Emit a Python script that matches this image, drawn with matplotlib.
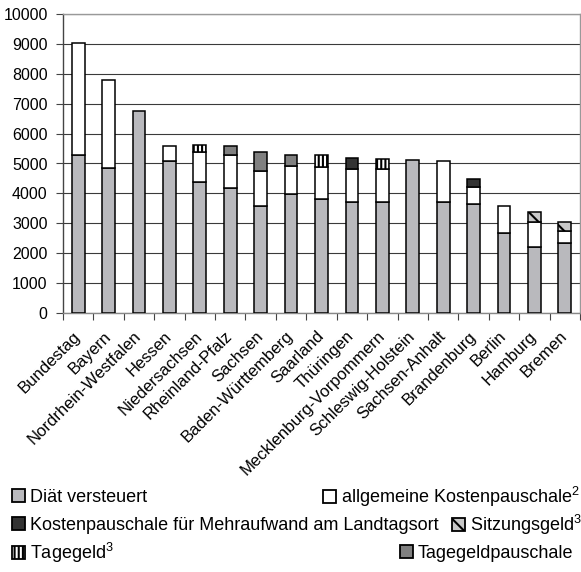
import matplotlib
matplotlib.use("Agg")
import matplotlib.pyplot as plt
import matplotlib.transforms as mtransforms
import numpy as np
from matplotlib.patches import Patch

plt.rcParams['font.family'] = ['Liberation Sans', 'DejaVu Sans']
plt.rcParams['mathtext.fontset'] = 'custom'
plt.rcParams['mathtext.rm'] = 'Liberation Sans'
plt.rcParams['mathtext.it'] = 'Liberation Sans'
plt.rcParams['hatch.linewidth'] = 1.5

# === DATA ===
states = ["Bundestag", "Bayern", "Nordrhein-Westfalen", "Hessen", "Niedersachsen",
          "Rheinland-Pfalz", "Sachsen", "Baden-Württemberg", "Saarland", "Thüringen",
          "Mecklenburg-Vorpommern", "Schleswig-Holstein", "Sachsen-Anhalt",
          "Brandenburg", "Berlin", "Hamburg", "Bremen"]
diaet = [5300, 4860, 6750, 5080, 4380, 4180, 3580, 3980, 3810, 3700, 3710, 5120, 3700, 3660, 2670, 2200, 2330]
allg_kosten = [3720, 2940, 0, 520, 1000, 1110, 1170, 930, 1080, 1110, 1110, 0, 1400, 570, 910, 830, 410]
mehraufwand = [0, 0, 0, 0, 0, 0, 0, 0, 0, 380, 0, 0, 0, 260, 0, 0, 0]
sitzungsgeld = [0, 0, 0, 0, 0, 0, 0, 0, 0, 0, 0, 0, 0, 0, 0, 345, 300]
tagegeld = [0, 0, 0, 0, 240, 0, 0, 0, 400, 0, 320, 0, 0, 0, 0, 0, 0]
tagegeldpauschale = [0, 0, 0, 0, 0, 290, 630, 380, 0, 0, 0, 0, 0, 0, 0, 0, 0]

labels = ["Diät versteuert", r"allgemeine Kostenpauschale$^{\mathrm{2}}$",
          "Kostenpauschale für Mehraufwand am Landtagsort", r"Sitzungsgeld$^{\mathrm{3}}$",
          r"Tagegeld$^{\mathrm{3}}$", "Tagegeldpauschale"]

# styles per series
styles = [
    dict(facecolor='#b9b9bd', hatch=None),
    dict(facecolor='white', hatch=None),
    dict(facecolor='#333333', hatch=None),
    dict(facecolor='#c8c8c8', hatch='\\\\'),
    dict(facecolor='white', hatch='||||'),
    dict(facecolor='#808080', hatch=None),
]
series = [diaet, allg_kosten, mehraufwand, sitzungsgeld, tagegeld, tagegeldpauschale]

fig = plt.figure(figsize=(5.81, 5.72), dpi=100)
ax = fig.add_axes([63 / 581, 1 - 313 / 572, 517 / 581, 299 / 572])

x = np.arange(len(states))
bottom = np.zeros(len(states))
for vals, st in zip(series, styles):
    vals = np.array(vals, dtype=float)
    mask = vals > 0
    ax.bar(x[mask], vals[mask], bottom=bottom[mask], width=0.42,
           color=st['facecolor'], edgecolor='black', linewidth=1.1,
           hatch=st['hatch'], zorder=3)
    bottom += vals

ax.set_xlim(-0.5, len(states) - 0.5)
ax.set_ylim(0, 10000)
ax.set_yticks(np.arange(0, 10001, 1000))
ax.yaxis.grid(True, color='#3a3a3a', linewidth=0.8, zorder=0)
ax.set_axisbelow(True)

ax.set_xticks(x)
ax.set_xticklabels(states, rotation=45, ha='right', va='center',
                   rotation_mode='anchor', fontsize=12)
# nudge rotated labels a bit to the left
shift = mtransforms.ScaledTranslation(-3 / 100, 0, fig.dpi_scale_trans)
for lbl in ax.get_xticklabels():
    lbl.set_transform(lbl.get_transform() + shift)
ax.set_xticks(np.arange(-0.5, len(states), 1), minor=True)
ax.tick_params(axis='x', which='major', length=0, pad=15)
ax.tick_params(axis='x', which='minor', length=5, width=0.8, color='#444444')
ax.tick_params(axis='y', length=5, width=0.8, color='#444444', labelsize=11.5, pad=6)

for side in ['top', 'right']:
    ax.spines[side].set_color('#999999')
    ax.spines[side].set_linewidth(1.0)
ax.spines['left'].set_color('#444444')
ax.spines['left'].set_linewidth(1.0)
ax.spines['bottom'].set_color('#888888')
ax.spines['bottom'].set_linewidth(1.0)

# legend entries placed individually (left / right layout)
legend_pos = [(12, 497), (323, 497), (12, 525), (452, 525), (12, 553), (400, 553)]
for lab, st, (px, py) in zip(labels, styles, legend_pos):
    h = Patch(facecolor=st['facecolor'], edgecolor='black', linewidth=1.3, hatch=st['hatch'])
    fig.legend(handles=[h], labels=[lab], loc='center left',
               bbox_to_anchor=(px / 581, 1 - py / 572), frameon=False,
               borderpad=0, borderaxespad=0, handlelength=0.7, handleheight=0.7,
               handletextpad=0.3, fontsize=13)

fig.savefig("out.png", dpi=100)
